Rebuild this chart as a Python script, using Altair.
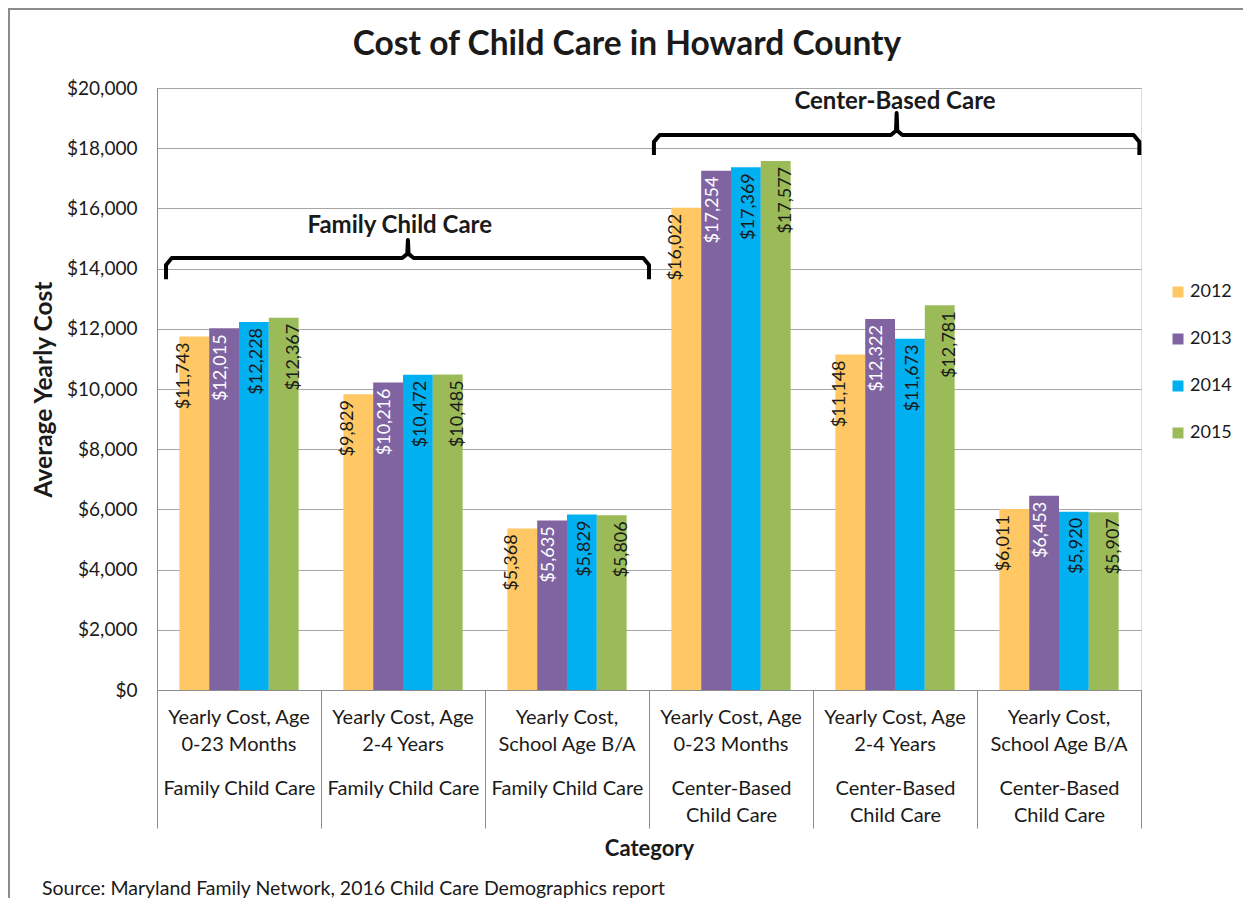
import altair as alt
import pandas as pd

# ---------------- data ----------------
age_labels = ["Yearly Cost, Age|0-23 Months", "Yearly Cost, Age|2-4 Years", "Yearly Cost,|School Age B/A",
              "Yearly Cost, Age|0-23 Months", "Yearly Cost, Age|2-4 Years", "Yearly Cost,|School Age B/A"]
type_labels = ["Family Child Care", "Family Child Care", "Family Child Care",
               "Center-Based|Child Care", "Center-Based|Child Care", "Center-Based|Child Care"]
years = ["2012", "2013", "2014", "2015"]
values_2012 = [11743, 9829, 5368, 16022, 11148, 6011]
values_2013 = [12015, 10216, 5635, 17254, 12322, 6453]
values_2014 = [12228, 10472, 5829, 17369, 11673, 5920]
values_2015 = [12367, 10485, 5806, 17577, 12781, 5907]
y_ticks = [0, 2000, 4000, 6000, 8000, 10000, 12000, 14000, 16000, 18000, 20000]

# bracket annotations (x in category units 0..6, y in dollars)
bracket_names = ["Family Child Care", "Center-Based Care"]
bracket_start = [0.055, 3.03]
bracket_end = [3.0, 5.99]
bracket_mid = [1.53, 4.51]
bracket_line = [14350, 18440]
bracket_foot = [13650, 17770]
bracket_tip = [14950, 19170]
bracket_label_x = [1.48, 4.5]
bracket_label_y = [15420, 19520]

title_text = "Cost of Child Care in Howard County"
source_text = "Source: Maryland Family Network, 2016 Child Care Demographics report"

colors = ["#FFC864", "#8064A2", "#00B0F0", "#9BBB59"]
FONT = "Lato"
TXT = "#1a1a1a"

cats = [a + "|" + t for a, t in zip(age_labels, type_labels)]
series = [values_2012, values_2013, values_2014, values_2015]
rows = []
for yi, yr in enumerate(years):
    for ci, c in enumerate(cats):
        rows.append({"cat": c, "year": yr, "value": series[yi][ci]})
df = pd.DataFrame(rows)

# bracket polylines
brows = []
cx, cy = 0.035, 230
for i, name in enumerate(bracket_names):
    s, e, m = bracket_start[i], bracket_end[i], bracket_mid[i]
    L, F, T = bracket_line[i], bracket_foot[i], bracket_tip[i]
    pts = [(s, F), (s, L - cy), (s + cx, L), (m - cx, L), (m - 0.004, L + cy * 0.6), (m, T),
           (m + 0.004, L + cy * 0.6), (m + cx, L), (e - cx, L), (e, L - cy), (e, F)]
    for k, (px, py) in enumerate(pts):
        brows.append({"g": name, "k": k, "bx": px, "by": py})
bdf = pd.DataFrame(brows)
ldf = pd.DataFrame({"name": bracket_names, "lx": bracket_label_x, "ly": bracket_label_y})

W, H = 984, 602

x_scale = alt.Scale(paddingInner=0, paddingOuter=0)
xo_scale = alt.Scale(paddingInner=0, paddingOuter=0.75)
y_scale = alt.Scale(domain=[0, 20000], nice=False)

axis1 = alt.Axis(
    orient="bottom", title=None, labelAngle=0, ticks=False, domain=True, domainColor="#8c8c8c",
    labelExpr="slice(split(datum.label, '|'), 0, 2)",
    labelFont=FONT, labelFontSize=20, labelLineHeight=27, labelColor=TXT,
    labelPadding=17, labelBaseline="top"
)
axis2 = alt.Axis(
    orient="bottom",
    title="Category", titleFont=FONT, titleFontSize=22, titleFontWeight="bold", titleColor=TXT,
    titlePadding=10,
    labelAngle=0, ticks=True, tickBand="extent", tickSize=138, tickColor="#8c8c8c", domain=False,
    labelExpr="slice(split(datum.label, '|'), 2)",
    labelFont=FONT, labelFontSize=20, labelLineHeight=27, labelColor=TXT,
    labelPadding=-50, labelBaseline="top"
)
y_axis = alt.Axis(
    values=y_ticks, format="$,.0f", title="Average Yearly Cost", titleFont=FONT,
    titleFontSize=24.5, titleFontWeight="bold", titleColor=TXT, titlePadding=10,
    labelFont=FONT, labelFontSize=19, labelColor=TXT, labelPadding=20, ticks=False,
    domain=True, domainColor="#8c8c8c", grid=True, gridColor="#a6a6a6"
)

bars = alt.Chart(df).mark_bar().encode(
    x=alt.X("cat:N", sort=cats, scale=x_scale, axis=axis1),
    xOffset=alt.XOffset("year:N", sort=years, scale=xo_scale),
    y=alt.Y("value:Q", scale=y_scale, axis=y_axis),
    color=alt.Color("year:N", sort=years, scale=alt.Scale(domain=years, range=colors),
                    legend=alt.Legend(title=None, orient="none", legendX=1012, legendY=195,
                                      symbolType="square", symbolSize=121, symbolStrokeWidth=0,
                                      labelFont=FONT, labelFontSize=18, labelColor=TXT,
                                      rowPadding=29, labelOffset=3, padding=0)),
)

labels = alt.Chart(df).mark_text(angle=270, align="right", baseline="middle", dx=-6,
                                  font=FONT, fontSize=18).encode(
    x=alt.X("cat:N", sort=cats, scale=x_scale, axis=axis2),
    xOffset=alt.XOffset("year:N", sort=years, scale=xo_scale),
    y=alt.Y("value:Q", scale=y_scale),
    text=alt.Text("value:Q", format="$,.0f"),
    color=alt.condition(alt.datum.year == "2013", alt.value("white"), alt.value(TXT)),
)

bx_scale = alt.Scale(domain=[0, 6], nice=False, zero=False)
brackets = alt.Chart(bdf).mark_line(color="black", strokeWidth=4, strokeJoin="round").encode(
    x=alt.X("bx:Q", scale=bx_scale, axis=None),
    y=alt.Y("by:Q", scale=y_scale),
    detail="g:N",
    order="k:Q",
)
blabels = alt.Chart(ldf).mark_text(font=FONT, fontSize=24, fontWeight="bold", color=TXT,
                                    baseline="middle", align="center").encode(
    x=alt.X("lx:Q", scale=bx_scale, axis=None),
    y=alt.Y("ly:Q", scale=y_scale),
    text="name:N",
)

title = alt.Chart(pd.DataFrame({"t": [title_text]})).mark_text(
    font=FONT, fontSize=33.5, fontWeight="bold", color=TXT, align="center", baseline="middle").encode(
    x=alt.value(470), y=alt.value(-43), text="t:N")

src = alt.Chart(pd.DataFrame({"t": [source_text]})).mark_text(
    font=FONT, fontSize=19.5, color=TXT, align="left", baseline="alphabetic").encode(
    x=alt.value(-115), y=alt.value(807), text="t:N")

frame = alt.Chart(pd.DataFrame({"t": [0]})).mark_rect(
    fill=None, stroke="#8c8c8c", strokeWidth=2).encode(
    x=alt.value(-148), x2=alt.value(1200), y=alt.value(-79), y2=alt.value(1000))

chart = alt.layer(frame, bars, labels, brackets, blabels, title, src).resolve_scale(
    x="independent", xOffset="independent"
).resolve_axis(x="independent").properties(
    width=W, height=H,
    autosize=alt.AutoSizeParams(type="none"),
    padding={"left": 149, "top": 80, "right": 102, "bottom": 208},
).configure_view(stroke=None).configure(background="white")

chart.save("out.html", embed_options={"renderer": "svg", "actions": False})
